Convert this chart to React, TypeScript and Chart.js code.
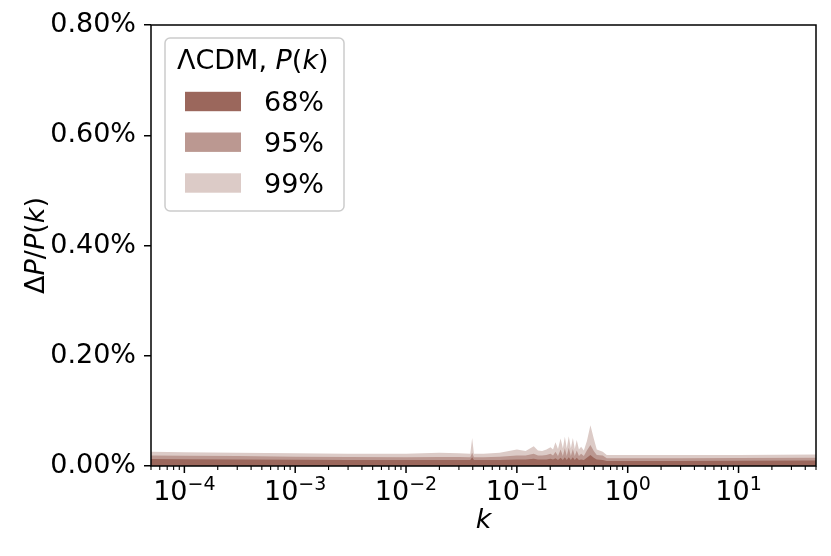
import React, { useEffect, useRef } from 'react';
import { Chart, registerables } from 'chart.js';

Chart.register(...registerables);

// k values (log axis) and upper edges of the bands, in percent
const kValues = [
  5e-5, 1e-4, 3e-4, 1e-3, 3e-3, 1e-2, 2e-2, 3e-2, 0.038, 0.0395, 0.041, 0.05, 0.07,
  0.1, 0.12, 0.142, 0.155, 0.169, 0.185, 0.201, 0.212, 0.223, 0.235, 0.248, 0.26,
  0.271, 0.282, 0.294, 0.307, 0.32, 0.333, 0.347, 0.363, 0.38, 0.402, 0.428, 0.461,
  0.494, 0.526, 0.596, 0.647, 1, 3, 10, 50,
];
const band99 = [
  0.026, 0.025, 0.024, 0.023, 0.022, 0.022, 0.024, 0.023, 0.022, 0.051, 0.022, 0.022, 0.024,
  0.03, 0.027, 0.036, 0.028, 0.027, 0.03, 0.034, 0.03, 0.043, 0.031, 0.05, 0.032,
  0.053, 0.032, 0.054, 0.032, 0.051, 0.031, 0.047, 0.03, 0.035, 0.028, 0.045, 0.074,
  0.05, 0.03, 0.026, 0.02, 0.02, 0.02, 0.02, 0.021,
];
const band95 = [
  0.019, 0.0185, 0.018, 0.017, 0.0165, 0.016, 0.0165, 0.0165, 0.016, 0.024, 0.016, 0.016, 0.017,
  0.019, 0.019, 0.022, 0.019, 0.019, 0.02, 0.022, 0.019, 0.026, 0.018, 0.03, 0.018,
  0.032, 0.018, 0.033, 0.018, 0.031, 0.018, 0.028, 0.018, 0.022, 0.018, 0.028, 0.038,
  0.027, 0.02, 0.019, 0.014, 0.014, 0.014, 0.0145, 0.015,
];
const band68 = [
  0.0127, 0.0123, 0.012, 0.0115, 0.011, 0.011, 0.011, 0.011, 0.011, 0.016, 0.011, 0.011, 0.011,
  0.012, 0.012, 0.013, 0.012, 0.012, 0.012, 0.013, 0.012, 0.014, 0.011, 0.015, 0.011,
  0.016, 0.011, 0.016, 0.011, 0.016, 0.011, 0.015, 0.011, 0.012, 0.011, 0.015, 0.02,
  0.015, 0.012, 0.011, 0.009, 0.009, 0.009, 0.0095, 0.01,
];

const yTickValues = [0, 0.2, 0.4, 0.6, 0.8];
const xMajorExps = [-4, -3, -2, -1, 0, 1];
const legendLabels = ['68%', '95%', '99%'];
const bandColors = ['#9b675c', '#bb9891', '#dccbc7'];

const FAM = "'DejaVu Sans'";
const FS = 27;
const up = (s: number) => `${s}px ${FAM}`;
const it = (s: number) => `italic ${s}px ${FAM}`;

type Part = [string, boolean];

function drawMixed(ctx: CanvasRenderingContext2D, parts: Part[], x: number, y: number, size: number, center: boolean) {
  let total = 0;
  const widths = parts.map(([t, i]) => {
    ctx.font = i ? it(size) : up(size);
    const w = ctx.measureText(t).width;
    total += w;
    return w;
  });
  let cx = center ? x - total / 2 : x;
  ctx.textAlign = 'left';
  ctx.textBaseline = 'alphabetic';
  parts.forEach(([t, i], idx) => {
    ctx.font = i ? it(size) : up(size);
    ctx.fillText(t, cx, y);
    cx += widths[idx];
  });
}

const overlay = {
  id: 'overlay',
  afterDraw(chart: any) {
    const ctx: CanvasRenderingContext2D = chart.ctx;
    const a = chart.chartArea;
    const xs = chart.scales.x;
    ctx.save();
    ctx.fillStyle = '#000';
    ctx.strokeStyle = '#000';

    // frame
    ctx.lineWidth = 1.5;
    ctx.strokeRect(a.left, a.top, a.right - a.left, a.bottom - a.top);

    // x ticks
    for (let e = -5; e <= 1; e++) {
      for (let m = 1; m <= 9; m++) {
        const v = m * Math.pow(10, e);
        if (v < xs.min || v > xs.max) continue;
        const px = xs.getPixelForValue(v);
        const major = m === 1;
        ctx.lineWidth = major ? 1.5 : 1.1;
        ctx.beginPath();
        ctx.moveTo(px, a.bottom);
        ctx.lineTo(px, a.bottom + (major ? 7 : 4));
        ctx.stroke();
      }
    }

    // x tick labels 10^n
    const supSize = Math.round(FS * 0.7);
    xMajorExps.forEach((e) => {
      const px = xs.getPixelForValue(Math.pow(10, e));
      const sup = e < 0 ? '\u2212' + Math.abs(e) : String(e);
      ctx.font = up(FS);
      const wb = ctx.measureText('10').width;
      ctx.font = up(supSize);
      const ws = ctx.measureText(sup).width;
      const x0 = px - (wb + ws) / 2;
      ctx.textAlign = 'left';
      ctx.textBaseline = 'alphabetic';
      ctx.font = up(FS);
      ctx.fillText('10', x0, 500);
      ctx.font = up(supSize);
      ctx.fillText(sup, x0 + wb, 490);
    });

    // x axis label
    drawMixed(ctx, [['k', true]], (a.left + a.right) / 2, 528, FS, true);

    // y axis label
    ctx.save();
    ctx.translate(44, (a.top + a.bottom) / 2);
    ctx.rotate(-Math.PI / 2);
    drawMixed(ctx, [['\u0394', false], ['P', true], ['/', false], ['P', true], ['(', false], ['k', true], [')', false]], 0, 0, FS, true);
    ctx.restore();

    // legend
    const lx = 165, ly = 38, lw = 179, lh = 173;
    ctx.beginPath();
    (ctx as any).roundRect(lx, ly, lw, lh, 5);
    ctx.fillStyle = 'rgba(255,255,255,0.8)';
    ctx.fill();
    ctx.strokeStyle = '#cccccc';
    ctx.lineWidth = 1.5;
    ctx.stroke();
    ctx.fillStyle = '#000';
    drawMixed(ctx, [['\u039BCDM, ', false], ['P', true], ['(', false], ['k', true], [')', false]], 177, 69, FS, false);
    const rowCenters = [101.5, 142.2, 183];
    legendLabels.forEach((lab, i) => {
      ctx.fillStyle = bandColors[i];
      ctx.fillRect(185, rowCenters[i] - 9.7, 56, 19.4);
      ctx.fillStyle = '#000';
      ctx.font = up(FS);
      ctx.textAlign = 'left';
      ctx.textBaseline = 'alphabetic';
      ctx.fillText(lab, 264, rowCenters[i] + 9.8);
    });

    ctx.restore();
  },
};

export default function App() {
  const ref = useRef<HTMLCanvasElement | null>(null);
  useEffect(() => {
    if (!ref.current) return;
    const series = [band68, band95, band99];
    const chart = new Chart(ref.current, {
      type: 'line',
      data: {
        datasets: series.map((vals, i) => ({
          label: legendLabels[i],
          data: kValues.map((k, j) => ({ x: k, y: vals[j] })),
          backgroundColor: bandColors[i],
          borderColor: bandColors[i],
          borderWidth: 0,
          pointRadius: 0,
          fill: 'origin',
          tension: 0,
        })),
      },
      options: {
        animation: false,
        responsive: false,
        devicePixelRatio: 1,
        layout: { padding: { left: 0, top: 25, right: 15, bottom: 0 } },
        plugins: { legend: { display: false }, tooltip: { enabled: false } },
        scales: {
          x: {
            type: 'logarithmic',
            min: 5e-5,
            max: 50,
            ticks: { display: false },
            grid: { display: false },
            border: { display: false },
            afterFit: (s: any) => { s.height = 90; },
          },
          y: {
            type: 'linear',
            min: 0,
            max: 0.8,
            afterBuildTicks: (s: any) => { s.ticks = yTickValues.map((v) => ({ value: v })); },
            ticks: {
              color: '#000',
              padding: 8,
              font: { family: 'DejaVu Sans', size: FS },
              callback: (v: any) => Number(v).toFixed(2) + '%',
            },
            grid: { display: true, drawOnChartArea: false, drawTicks: true, tickLength: 7, lineWidth: 1.5, color: '#000' },
            border: { display: false },
            afterFit: (s: any) => { s.width = 151; },
          },
        },
      },
      plugins: [overlay],
    });
    return () => chart.destroy();
  }, []);
  return (
    <div style={{ position: 'fixed', left: 0, top: 0, width: 831, height: 556, background: '#fff' }}>
      <canvas ref={ref} width={831} height={556} style={{ display: 'block' }} />
    </div>
  );
}
